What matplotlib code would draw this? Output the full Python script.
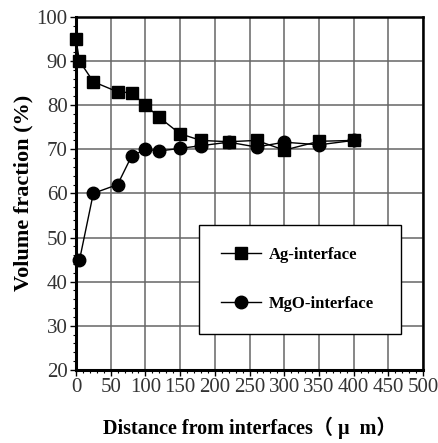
import matplotlib
matplotlib.use('Agg')
import matplotlib.pyplot as plt
from matplotlib.ticker import MultipleLocator

# Datos
dist_ag = [0, 5, 25, 60, 80, 100, 120, 150, 180, 220, 260, 300, 350, 400]
frac_ag = [95, 90, 85.3, 83, 82.8, 80, 77.2, 73.5, 72, 71.7, 72, 69.8, 71.8, 72]

dist_mgo = [5, 25, 60, 80, 100, 120, 150, 180, 220, 260, 300, 350, 400]
frac_mgo = [44.8, 60, 62, 68.4, 70, 69.6, 70.2, 70.8, 71.6, 70.5, 71.6, 71, 72]

x_ticks = [0, 50, 100, 150, 200, 250, 300, 350, 400, 450, 500]
y_ticks = [20, 30, 40, 50, 60, 70, 80, 90, 100]

plt.rcParams['font.family'] = ['Liberation Serif', 'Noto Sans CJK JP']

fig = plt.figure(figsize=(4.39, 4.43), dpi=100)
ax = fig.add_axes([0.173, 0.165, 0.791, 0.797])

ax.plot(dist_ag, frac_ag, color='black', lw=1, marker='s', ms=9,
        label='Ag-interface', zorder=3, clip_on=False)
ax.plot(dist_mgo, frac_mgo, color='black', lw=1, marker='o', ms=9,
        label='MgO-interface', zorder=3, clip_on=False)

ax.set_xlim(0, 500)
ax.set_ylim(20, 100)
ax.set_xticks(x_ticks)
ax.set_yticks(y_ticks)
ax.xaxis.set_minor_locator(MultipleLocator(10))
ax.yaxis.set_minor_locator(MultipleLocator(2))
ax.tick_params(axis='both', which='major', direction='out', length=4,
               width=1, labelsize=15, pad=2, labelcolor='#333333')
ax.tick_params(axis='both', which='minor', direction='out', length=2,
               width=0.8)

ax.grid(True, which='major', color='#666666', lw=1.1)
for lado in ['left', 'bottom']:
    ax.spines[lado].set_linewidth(2.2)
for lado in ['top', 'right']:
    ax.spines[lado].set_linewidth(1.8)

ax.set_xlabel('Distance from interfaces（ μ  m）', fontsize=14.5,
              fontweight='bold', labelpad=14)
ax.set_ylabel('Volume fraction (%)', fontsize=16, fontweight='bold',
              labelpad=2)

leg = ax.legend(loc='upper left', bbox_to_anchor=(0.354, 0.105, 0.583, 0.305),
                mode='expand', fancybox=False, framealpha=1, edgecolor='black',
                prop={'weight': 'bold', 'size': 12}, labelspacing=2.0,
                borderpad=1.3, handlelength=2.4, handletextpad=0.5,
                borderaxespad=0)
leg.get_frame().set_linewidth(1)

plt.savefig('out.png', dpi=100)
